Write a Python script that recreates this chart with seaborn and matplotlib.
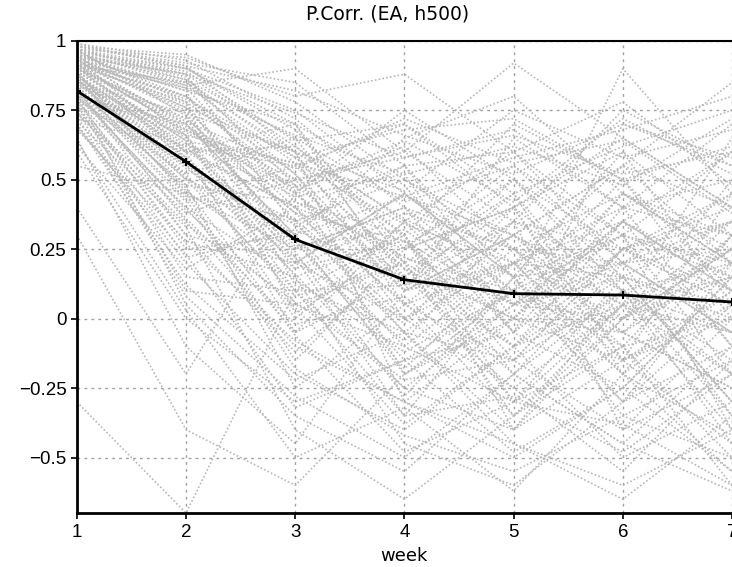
import numpy as np
import pandas as pd
import matplotlib
matplotlib.use("Agg")
import matplotlib.pyplot as plt
import seaborn as sns

# semanas e curva principal (linha preta)
weeks = [1, 2, 3, 4, 5, 6, 7]
mean_corr = [0.82, 0.565, 0.285, 0.14, 0.09, 0.085, 0.06]

# membros individuais (linhas cinzas pontilhadas), lidos aproximadamente
members = [
    [0.95, 0.88, 0.62, 0.35, 0.10, -0.05, 0.20],
    [0.92, 0.80, 0.45, 0.10, 0.30, 0.55, 0.40],
    [0.90, 0.70, 0.30, -0.10, -0.30, 0.05, -0.20],
    [0.88, 0.62, 0.55, 0.70, 0.40, 0.10, -0.15],
    [0.97, 0.90, 0.75, 0.45, 0.20, 0.35, 0.60],
    [0.85, 0.50, 0.10, -0.25, 0.05, 0.30, 0.15],
    [0.80, 0.40, -0.05, 0.15, -0.20, -0.45, -0.10],
    [0.93, 0.75, 0.40, 0.25, 0.55, 0.20, -0.05],
    [0.78, 0.30, 0.20, 0.45, 0.15, -0.20, 0.30],
    [0.70, 0.20, -0.20, -0.40, -0.10, 0.25, 0.45],
    [0.96, 0.85, 0.60, 0.05, -0.15, 0.10, -0.35],
    [0.89, 0.65, 0.15, 0.30, 0.70, 0.50, 0.10],
    [0.82, 0.55, 0.35, -0.05, 0.25, -0.10, -0.50],
    [0.75, 0.10, 0.05, 0.20, -0.35, 0.05, 0.25],
    [0.91, 0.78, 0.50, 0.60, 0.35, 0.75, 0.55],
    [0.60, 0.00, -0.30, -0.15, 0.10, -0.30, 0.05],
    [0.87, 0.45, 0.25, 0.40, -0.05, 0.40, 0.70],
    [0.94, 0.82, 0.70, 0.20, 0.45, -0.15, 0.00],
    [0.83, 0.35, -0.10, -0.30, -0.50, -0.25, 0.15],
    [0.72, 0.60, 0.40, 0.05, 0.20, 0.15, -0.30],
    [0.98, 0.92, 0.85, 0.55, 0.05, 0.20, 0.35],
    [0.86, 0.58, 0.00, 0.35, 0.60, 0.30, -0.40],
    [0.79, 0.25, 0.30, -0.20, 0.00, 0.45, 0.20],
    [0.65, -0.10, -0.45, 0.10, 0.30, -0.05, -0.25],
    [0.90, 0.72, 0.20, 0.00, -0.25, -0.55, -0.15],
    [0.84, 0.68, 0.45, 0.75, 0.50, 0.25, 0.05],
    [0.77, 0.15, 0.10, -0.35, 0.15, 0.60, 0.30],
    [0.95, 0.86, 0.58, 0.30, -0.40, 0.00, 0.50],
    [0.55, 0.45, -0.15, 0.25, 0.40, -0.20, -0.55],
    [0.88, 0.52, 0.65, 0.15, -0.10, 0.35, 0.10],
    [0.81, 0.05, -0.35, -0.55, -0.20, 0.10, -0.05],
    [0.92, 0.76, 0.35, 0.50, 0.25, 0.05, 0.65],
    [0.74, 0.38, 0.50, 0.10, 0.65, 0.40, -0.10],
    [0.30, -0.40, -0.60, -0.20, 0.05, 0.15, -0.30],
    [0.97, 0.94, 0.80, 0.88, 0.60, 0.20, 0.25],
    [0.86, 0.48, -0.25, 0.05, 0.35, -0.40, 0.00],
    [0.68, 0.28, 0.15, -0.45, -0.60, -0.30, 0.20],
    [0.93, 0.84, 0.90, 0.60, 0.92, 0.65, 0.40],
    [0.76, 0.62, 0.25, 0.40, 0.10, 0.90, 0.45],
    [-0.30, -0.70, 0.10, 0.30, -0.15, 0.25, 0.35],
    [0.89, 0.66, 0.05, -0.10, 0.20, 0.55, 0.85],
    [0.83, 0.42, 0.55, 0.20, -0.30, -0.10, -0.60],
    [0.71, 0.33, -0.40, -0.65, -0.35, 0.00, 0.15],
    [0.96, 0.90, 0.68, 0.25, 0.40, 0.60, 0.05],
    [0.80, 0.70, 0.30, 0.65, 0.80, 0.45, 0.20],
    [0.62, 0.18, 0.40, -0.05, -0.45, -0.65, -0.35],
    [0.91, 0.57, 0.20, 0.45, 0.15, 0.30, -0.20],
    [0.85, 0.74, 0.60, -0.30, 0.00, -0.15, 0.10],
    [0.40, -0.20, 0.45, 0.15, 0.50, 0.10, -0.45],
    [0.94, 0.60, -0.05, 0.35, -0.05, 0.70, 0.55],
    [0.99, 0.93, 0.72, 0.40, 0.25, 0.45, 0.30],
    [0.97, 0.87, 0.48, 0.18, -0.10, 0.15, 0.35],
    [0.95, 0.80, 0.52, 0.00, 0.20, -0.20, 0.10],
    [0.93, 0.70, 0.38, 0.28, 0.05, 0.35, -0.10],
    [0.90, 0.64, 0.10, 0.12, 0.45, 0.00, 0.25],
    [0.98, 0.95, 0.78, 0.50, 0.30, 0.05, -0.05],
    [0.86, 0.56, 0.28, -0.15, -0.05, 0.25, 0.40],
    [0.92, 0.83, 0.42, 0.22, 0.10, 0.50, 0.00],
    [0.84, 0.46, 0.18, 0.38, 0.25, -0.05, -0.25],
    [0.96, 0.78, 0.22, -0.08, 0.35, 0.15, 0.05],
    [0.88, 0.60, 0.62, 0.30, -0.20, 0.20, 0.45],
    [0.94, 0.88, 0.33, 0.55, 0.15, -0.35, -0.15],
    [0.79, 0.52, 0.08, 0.20, 0.00, 0.35, 0.15],
    [0.91, 0.68, 0.48, -0.20, 0.10, -0.10, 0.30],
    [0.97, 0.86, 0.65, 0.42, 0.55, 0.30, 0.20],
    [0.82, 0.36, -0.02, 0.08, -0.25, 0.05, -0.40],
    [0.93, 0.74, 0.26, 0.32, 0.05, 0.45, 0.25],
    [0.89, 0.44, 0.36, 0.00, 0.30, 0.10, -0.20],
    [0.95, 0.82, 0.12, -0.05, -0.15, 0.25, 0.10],
    [0.76, 0.22, 0.32, 0.15, 0.40, -0.15, 0.05],
    [0.99, 0.90, 0.70, 0.10, 0.20, 0.40, 0.50],
    [0.87, 0.63, 0.44, 0.52, -0.05, -0.25, 0.15],
    [0.92, 0.58, 0.24, -0.28, 0.15, 0.20, -0.05],
    [0.81, 0.66, 0.56, 0.34, 0.20, 0.00, 0.35],
    [0.94, 0.77, 0.02, 0.26, 0.50, 0.15, -0.30],
    [0.70, 0.12, -0.22, -0.05, -0.40, 0.10, 0.20],
    [0.96, 0.84, 0.56, 0.18, 0.00, -0.05, 0.30],
    [0.85, 0.54, 0.30, 0.44, 0.30, 0.55, 0.20],
    [0.90, 0.72, 0.38, 0.06, -0.35, -0.10, 0.00],
    [0.78, 0.40, 0.14, -0.12, 0.10, 0.30, 0.60],
    [0.98, 0.91, 0.60, 0.36, 0.15, -0.30, -0.10],
    [0.83, 0.30, -0.12, 0.22, 0.05, 0.00, 0.25],
    [0.92, 0.80, 0.46, 0.62, 0.25, 0.20, -0.35],
    [0.88, 0.50, 0.34, -0.02, 0.40, 0.65, 0.40],
    [0.95, 0.66, 0.18, 0.28, -0.10, 0.05, 0.15],
    [0.74, 0.34, 0.06, -0.22, -0.15, -0.40, -0.20],
    [0.91, 0.85, 0.52, 0.12, 0.35, 0.25, 0.05],
    [0.86, 0.60, 0.70, 0.48, 0.00, 0.35, 0.10],
    [0.97, 0.73, 0.28, -0.18, 0.20, -0.15, 0.45],
    [0.80, 0.48, 0.42, 0.30, -0.30, 0.15, 0.00],
    [0.93, 0.79, 0.58, 0.68, 0.72, 0.50, 0.62],
    [0.87, 0.61, 0.40, 0.55, 0.60, 0.78, 0.48],
    [0.96, 0.89, 0.64, 0.70, 0.45, 0.62, 0.75],
    [0.84, 0.43, -0.18, -0.42, -0.55, -0.35, -0.50],
    [0.77, 0.27, -0.08, -0.30, -0.45, -0.60, -0.40],
    [0.90, 0.69, 0.50, 0.58, 0.68, 0.40, 0.30],
    [0.73, 0.08, -0.28, -0.50, -0.20, -0.45, -0.62],
    [0.98, 0.91, 0.82, 0.66, 0.52, 0.70, 0.58],
    [0.88, 0.55, 0.16, -0.25, -0.40, -0.15, -0.45],
    [0.94, 0.76, 0.60, 0.46, 0.75, 0.58, 0.68],
    [0.81, 0.39, 0.04, -0.38, -0.10, -0.50, -0.30],
    [0.92, 0.67, 0.47, 0.64, 0.42, 0.72, 0.52],
    [0.69, 0.23, -0.32, -0.15, -0.48, -0.25, -0.55],
    [0.95, 0.83, 0.66, 0.52, 0.62, 0.48, 0.72],
    [0.86, 0.51, 0.22, -0.35, -0.28, -0.48, -0.20],
    [0.91, 0.71, 0.54, 0.72, 0.56, 0.64, 0.38],
    [0.64, 0.03, -0.50, -0.32, -0.62, -0.20, -0.42],
    [0.97, 0.88, 0.74, 0.58, 0.66, 0.52, 0.60],
    [0.83, 0.47, -0.06, -0.48, -0.30, -0.38, -0.60],
    [0.89, 0.64, 0.56, 0.44, 0.58, 0.68, 0.80],
]

y_ticks = [-0.5, -0.25, 0, 0.25, 0.5, 0.75, 1]
y_labels = ["\u22120.5", "\u22120.25", "0", "0.25", "0.5", "0.75", "1"]

# tabela longa para o seaborn
rows = []
for i, m in enumerate(members):
    for w, v in zip(weeks, m):
        rows.append({"member": i, "week": w, "corr": v})
df_members = pd.DataFrame(rows)
df_mean = pd.DataFrame({"week": weeks, "corr": mean_corr})

sns.set_style("white")
plt.rcParams["font.family"] = ["Liberation Sans", "DejaVu Sans"]
plt.rcParams["text.color"] = "black"
plt.rcParams["axes.labelcolor"] = "black"

fig = plt.figure(figsize=(7.32, 5.67), dpi=100)
ax = fig.add_axes([0.105, 0.095, 0.895, 0.833])

sns.lineplot(data=df_members, x="week", y="corr", units="member",
             estimator=None, color="#b8b8b8", linewidth=1.2,
             linestyle=(0, (1, 1.3)), ax=ax, legend=False, zorder=2)
sns.lineplot(data=df_mean, x="week", y="corr", color="black",
             linewidth=2.0, marker="+", markersize=6, markeredgewidth=1.5,
             markeredgecolor="black", ax=ax, zorder=4)

ax.set_xlim(1, 7)
ax.set_ylim(-0.7, 1)
ax.set_xticks(weeks)
ax.set_yticks(y_ticks)
ax.set_yticklabels(y_labels)
ax.grid(True, color="#a0a0a0", linestyle=(0, (2, 3)), linewidth=1.0, zorder=1)
ax.set_axisbelow(True)

ax.tick_params(axis="both", direction="out", length=4, width=1.2,
               labelsize=13.5, colors="black", left=True, bottom=True)
for side in ["left", "bottom"]:
    ax.spines[side].set_linewidth(2.0)
    ax.spines[side].set_color("black")
ax.spines["top"].set_linewidth(1.5)
ax.spines["top"].set_linestyle((0, (1, 1)))
ax.spines["top"].set_color("black")
ax.spines["right"].set_visible(False)

# título um pouco à esquerda do centro do eixo, como no original
fig.text(0.53, 0.975, "P.Corr. (EA, h500)", fontsize=13.5, color="black",
         ha="center", va="center", family="DejaVu Sans")
ax.set_xlabel("week", fontsize=13, labelpad=5, family="DejaVu Sans")
ax.set_ylabel("")

plt.savefig("out.png", dpi=100)
